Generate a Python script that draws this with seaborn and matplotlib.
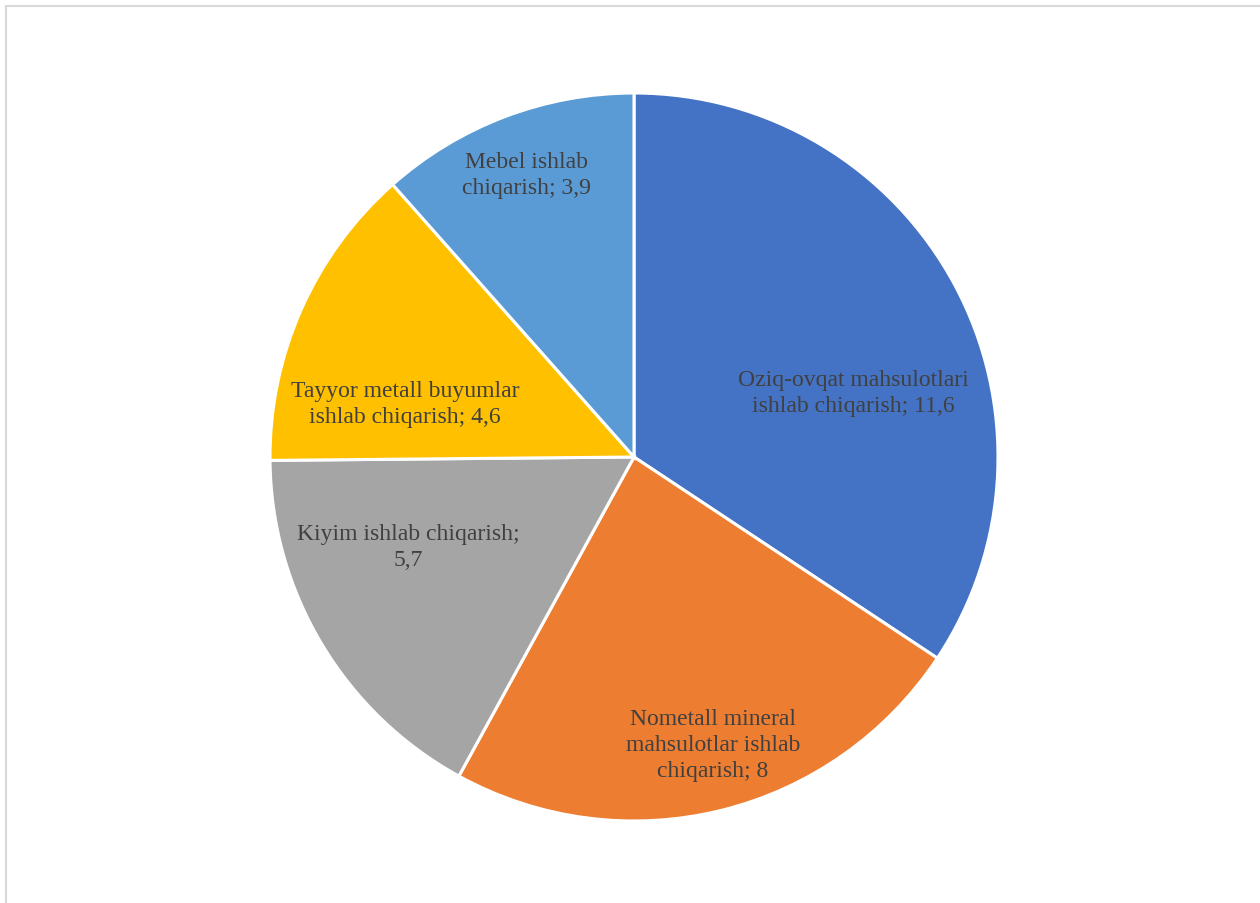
import numpy as np
import matplotlib
matplotlib.use("Agg")
import matplotlib.pyplot as plt
from matplotlib.lines import Line2D
import seaborn as sns

# ---- data ----
categories = [
    "Oziq-ovqat mahsulotlari\nishlab chiqarish",
    "Nometall mineral\nmahsulotlar ishlab\nchiqarish",
    "Kiyim ishlab chiqarish",
    "Tayyor metall buyumlar\nishlab chiqarish",
    "Mebel ishlab\nchiqarish",
]
values = [11.6, 8, 5.7, 4.6, 3.9]
separators = ["; ", "; ", ";\n", "; ", "; "]

# ---- style ----
colors = ["#4472C4", "#ED7D31", "#A5A5A5", "#FFC000", "#5B9BD5"]
label_r = [0.627, 0.818, 0.668, 0.646, 0.831]
label_dtheta = [-11.9, 1.5, -9.25, 10.9, 0.0]

sns.set_theme(style="white")
plt.rcParams["font.family"] = ["Liberation Serif", "DejaVu Serif"]

W, H = 1260, 904
fig = plt.figure(figsize=(W / 100, H / 100), dpi=100)
cx, cy, R = 634, 458, 364
ax = fig.add_axes([(cx - R) / W, (H - cy - R) / H, 2 * R / W, 2 * R / H])

wedges, _ = ax.pie(
    values,
    colors=colors,
    startangle=90,
    counterclock=False,
    radius=1,
    wedgeprops=dict(edgecolor="white", linewidth=2.2),
)
ax.set_xlim(-1, 1)
ax.set_ylim(-1, 1)
ax.set_aspect("equal")
ax.axis("off")

def fmt(v):
    return f"{v:g}".replace(".", ",")

for w, cat, sep, v, r, dt in zip(wedges, categories, separators, values, label_r, label_dtheta):
    mid = np.deg2rad((w.theta1 + w.theta2) / 2 + dt)
    ax.text(r * np.cos(mid), r * np.sin(mid), f"{cat}{sep}{fmt(v)}",
            ha="center", va="center", fontsize=17, color="#404040",
            linespacing=1.32)

# chart area border (top and left visible)
fig.add_artist(Line2D([5.5 / W, 1], [1 - 6.5 / H, 1 - 6.5 / H], transform=fig.transFigure,
                      color="#D9D9D9", lw=1.5))
fig.add_artist(Line2D([5.5 / W, 5.5 / W], [0, 1 - 6.5 / H], transform=fig.transFigure,
                      color="#D9D9D9", lw=1.5))

fig.savefig("out.png", dpi=100, facecolor="white")
